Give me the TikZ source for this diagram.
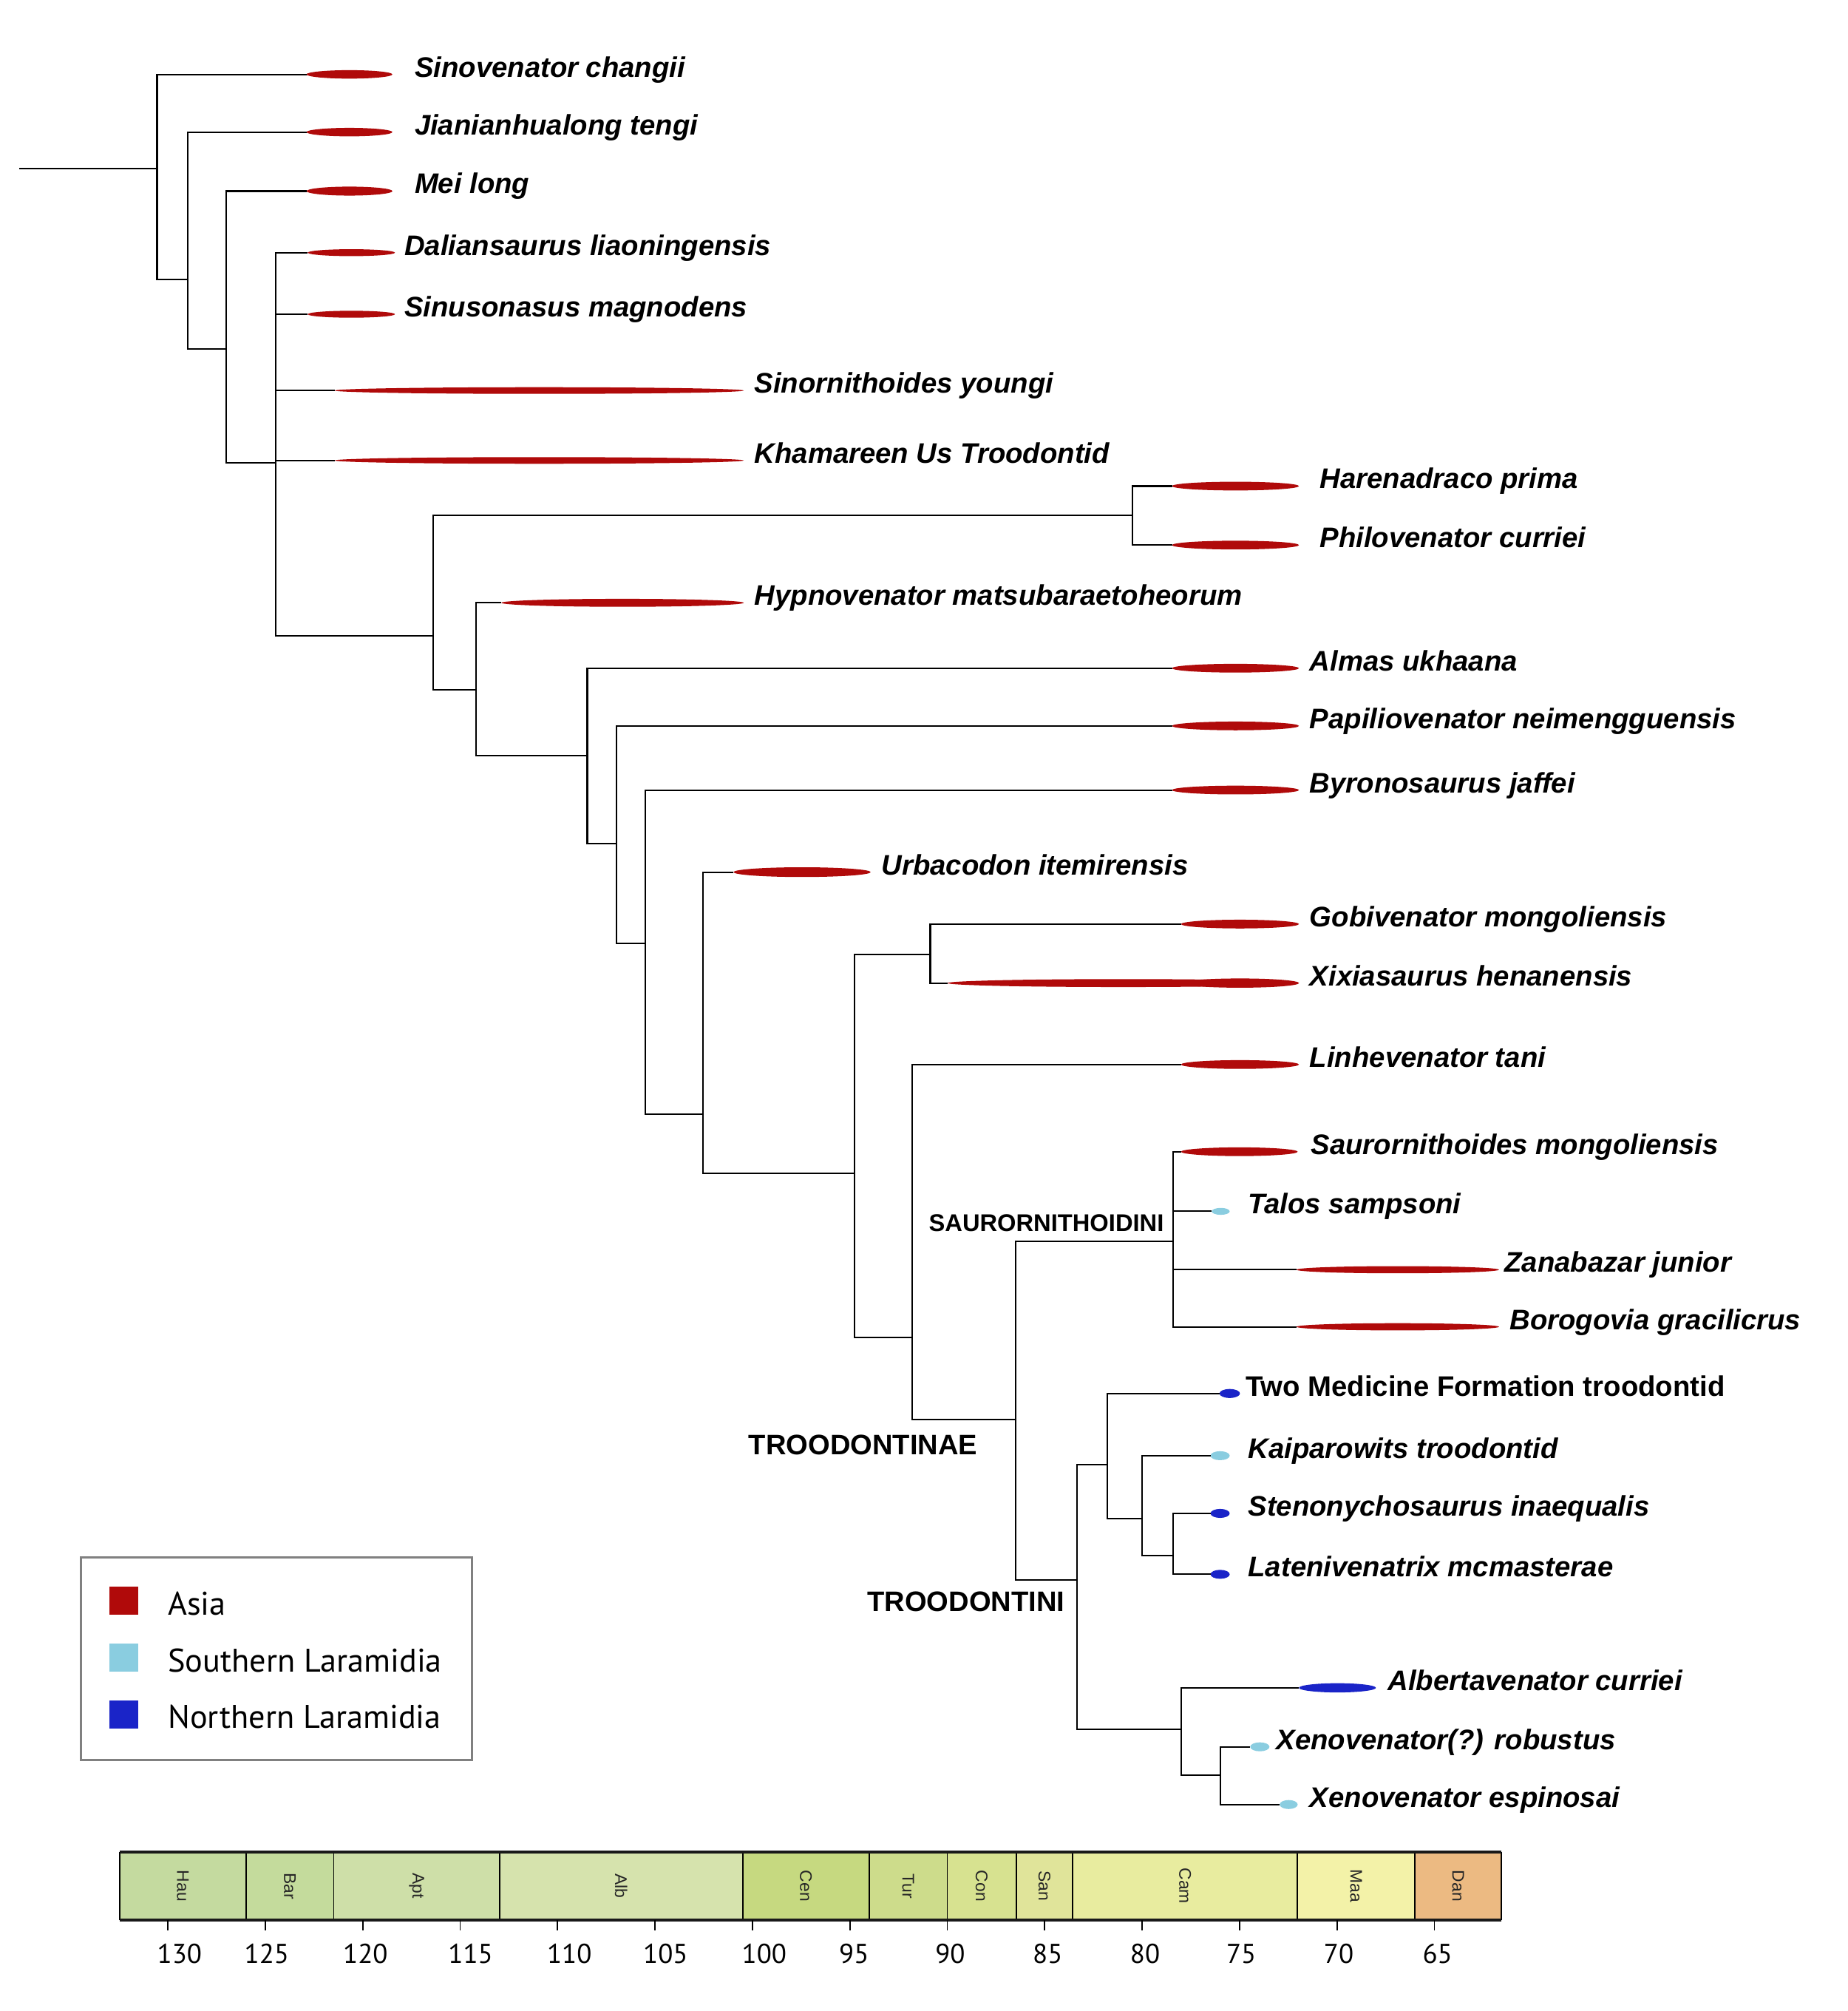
\documentclass[tikz,border=0pt]{standalone}
\usepackage{fontspec}
\setmainfont{Liberation Sans}
\newfontfamily\legfont{PT Sans}

\definecolor{asia}{RGB}{176,10,10}
\definecolor{slaram}{RGB}{138,205,224}
\definecolor{nlaram}{RGB}{26,36,200}
\definecolor{hau}{RGB}{196,218,159}
\definecolor{bar}{RGB}{196,219,156}
\definecolor{apt}{RGB}{206,223,168}
\definecolor{alb}{RGB}{214,227,173}
\definecolor{cen}{RGB}{198,217,128}
\definecolor{tur}{RGB}{205,220,139}
\definecolor{con}{RGB}{215,226,144}
\definecolor{san}{RGB}{224,228,154}
\definecolor{cam}{RGB}{232,236,159}
\definecolor{maa}{RGB}{243,242,168}
\definecolor{dan}{RGB}{236,186,130}

\tikzset{
	branch/.style={black, line width=0.6pt},
	taxon/.style={anchor=base west, inner sep=0pt, font=\fontsize{10.9}{13}\selectfont\bfseries\itshape},
	clade/.style={anchor=base west, inner sep=0pt, font=\fontsize{10.85}{13}\selectfont\bfseries},
	legtext/.style={anchor=base west, inner sep=0pt, font=\legfont\fontsize{12.6}{14}\selectfont},
	legsq/.style={minimum size=0.382cm, inner sep=0pt},
	agelab/.style={anchor=base, inner sep=0pt, font=\legfont\fontsize{10.5}{12}\selectfont},
	stagelab/.style={rotate=-90, inner sep=0pt, font=\fontsize{6.5}{7}\selectfont, black!85}
}

% name, y, start, end, half height, colour, label x, label
\newcommand{\taxon}[8]{%
	\coordinate (#1) at (#3,#2);
	\fill[#6] ({(#3+#4)/2},#2) ellipse [x radius={(#4-#3)/2}, y radius=#5];
	\node[taxon] (#1-name) at (#7,#2+2) {#8};}

\begin{document}
\begin{tikzpicture}[x=0.01735cm, y=-0.01735cm]
		\useasboundingbox (0,0) rectangle (1441,1568);

		% internal nodes
		\coordinate (root)	at (15, 131.4);
		\coordinate (nA)	at (122.5, 131.4);
		\coordinate (nB)	at (146.5, 218);
		\coordinate (nC)	at (176.5, 272);
		\coordinate (nD)	at (215, 361);
		\coordinate (nE)	at (338, 496);
		\coordinate (nF)	at (883, 402);
		\coordinate (nG)	at (371, 538);
		\coordinate (nH)	at (458, 589);
		\coordinate (nI)	at (481, 657.6);
		\coordinate (nJ)	at (503, 735.8);
		\coordinate (nK)	at (548, 868.6);
		\coordinate (nL)	at (666.5, 915);
		\coordinate (nM)	at (725.5, 744);
		\coordinate (nN)	at (711.5, 1043);
		\coordinate (nO)	at (792, 1107);
		\coordinate (nP)	at (915, 967.7);
		\coordinate (nQ)	at (840, 1232);
		\coordinate (nR)	at (863.5, 1142);
		\coordinate (nS)	at (890.5, 1184);
		\coordinate (nT)	at (915, 1213);
		\coordinate (nU)	at (921, 1348.5);
		\coordinate (nV)	at (951.5, 1384);

		% tips
		\taxon{sinov}{58}{239}{306}{3.3}{asia}{323}{Sinovenator changii}
		\taxon{jian}{103}{239}{306}{3.3}{asia}{323}{Jianianhualong tengi}
		\taxon{mei}{149}{239}{306}{3.5}{asia}{323}{Mei long}
		\taxon{dalian}{197}{240}{308}{2.7}{asia}{315}{Daliansaurus liaoningensis}
		\taxon{sinus}{245}{240}{308}{2.7}{asia}{315}{Sinusonasus magnodens}
		\taxon{sinorn}{304.5}{261}{580}{2.6}{asia}{588}{Sinornithoides youngi}
		\taxon{kham}{359}{261}{580}{2.6}{asia}{588}{Khamareen Us Troodontid}
		\taxon{haren}{379}{914}{1013}{3.4}{asia}{1029}{Harenadraco prima}
		\taxon{philo}{425}{914}{1013}{3.4}{asia}{1029}{Philovenator curriei}
		\taxon{hypno}{470}{391}{580}{3.1}{asia}{588}{Hypnovenator matsubaraetoheorum}
		\taxon{almas}{521}{914}{1013}{3.4}{asia}{1021}{Almas ukhaana}
		\taxon{papil}{566}{914}{1013}{3.4}{asia}{1021}{Papiliovenator neimengguensis}
		\taxon{byron}{616}{914}{1013}{3.4}{asia}{1021}{Byronosaurus jaffei}
		\taxon{urba}{680}{572}{679}{3.8}{asia}{687}{Urbacodon itemirensis}
		\taxon{gobi}{720.5}{921}{1013}{3.4}{asia}{1021}{Gobivenator mongoliensis}
		\taxon{xixia}{766.5}{739}{1013}{3.1}{asia}{1021}{Xixiasaurus henanensis}
		\fill[asia] (967, 766.5) ellipse [x radius=46, y radius=3.6];
		\taxon{linhe}{830}{921}{1013}{3.4}{asia}{1021}{Linhevenator tani}
		\taxon{saurm}{898}{921}{1012}{3.4}{asia}{1022}{Saurornithoides mongoliensis}
		\taxon{talos}{944.5}{945}{959}{2.7}{slaram}{973}{Talos sampsoni}
		\taxon{zanab}{990}{1011}{1169}{2.8}{asia}{1173}{Zanabazar junior}
		\taxon{borog}{1034.5}{1011}{1169}{2.8}{asia}{1177}{Borogovia gracilicrus}
		\taxon{twomed}{1086.5}{951}{967}{3.5}{nlaram}{971}{\upshape Two Medicine Formation troodontid}
		\taxon{kaipa}{1135}{944}{959}{3.5}{slaram}{973}{Kaiparowits troodontid}
		\taxon{steno}{1180}{944}{959}{3.5}{nlaram}{973}{Stenonychosaurus inaequalis}
		\taxon{laten}{1227.5}{944}{959}{3.5}{nlaram}{973}{Latenivenatrix mcmasterae}
		\taxon{alber}{1316}{1013}{1073}{3.6}{nlaram}{1082}{Albertavenator curriei}
		\taxon{xenor}{1362}{975}{990}{3.5}{slaram}{995}{Xenovenator(?) robustus}
		\taxon{xenoe}{1407}{998}{1012}{3.5}{slaram}{1021}{Xenovenator espinosai}

		% branches
		\draw[branch]	(root) -- (nA);
		\draw[branch]	(nA) |- (sinov)		(nA) |- (nB);
		\draw[branch]	(nB) |- (jian)		(nB) |- (nC);
		\draw[branch]	(nC) |- (mei)		(nC) |- (nD);
		\draw[branch]	(nD) |- (dalian)	(nD) |- (sinus)
						(nD) |- (sinorn)	(nD) |- (kham)
						(nD) |- (nE);
		\draw[branch]	(nE) |- (nF)		(nE) |- (nG);
		\draw[branch]	(nF) |- (haren)		(nF) |- (philo);
		\draw[branch]	(nG) |- (hypno)		(nG) |- (nH);
		\draw[branch]	(nH) |- (almas)		(nH) |- (nI);
		\draw[branch]	(nI) |- (papil)		(nI) |- (nJ);
		\draw[branch]	(nJ) |- (byron)		(nJ) |- (nK);
		\draw[branch]	(nK) |- (urba)		(nK) |- (nL);
		\draw[branch]	(nL) |- (nM)		(nL) |- (nN);
		\draw[branch]	(nM) |- (gobi)		(nM) |- (xixia);
		\draw[branch]	(nN) |- (linhe)		(nN) |- (nO);
		\draw[branch]	(nO) |- (nP)		(nO) |- (nQ);
		\draw[branch]	(nP) |- (saurm)		(nP) |- (talos)
						(nP) |- (zanab)		(nP) |- (borog);
		\draw[branch]	(nQ) |- (nR)		(nQ) |- (nU);
		\draw[branch]	(nR) |- (twomed)	(nR) |- (nS);
		\draw[branch]	(nS) |- (kaipa)		(nS) |- (nT);
		\draw[branch]	(nT) |- (steno)		(nT) |- (laten);
		\draw[branch]	(nU) |- (alber)		(nU) |- (nV);
		\draw[branch]	(nV) |- (xenor)		(nV) |- (xenoe);

		% clades
		\node[clade, font=\fontsize{9.3}{11}\selectfont\bfseries] (saurini) at (724, 960) {SAURORNITHOIDINI};
		\node[clade] (troinae) at (583.5, 1134) {TROODONTINAE};
		\node[clade] (troini) at (676, 1256.5) {TROODONTINI};

		% legend
		\draw[black!50, line width=0.8pt] (63, 1214.5) rectangle (368, 1372.5);
		\node[legsq, fill=asia] (sqasia) at (96.6, 1248.2) {};
		\node[legsq, fill=slaram] (sqsouth) at (96.6, 1292.5) {};
		\node[legsq, fill=nlaram] (sqnorth) at (96.6, 1336.9) {};
		\node[legtext] (legasia) at (130.7, 1259) {Asia};
		\node[legtext] (legsouth) at (130.7, 1303.5) {Southern Laramidia};
		\node[legtext] (legnorth) at (130.7, 1347.7) {Northern Laramidia};

		% time scale
		\foreach \xa/\xb/\st/\col in {93.4/191.9/Hau/hau, 191.9/260.3/Bar/bar, 260.3/389.6/Apt/apt,
				389.6/579.3/Alb/alb, 579.3/677.8/Cen/cen, 677.8/738.7/Tur/tur, 738.7/792.5/Con/con,
				792.5/836.5/San/san, 836.5/1011.8/Cam/cam, 1011.8/1103.3/Maa/maa, 1103.3/1171/Dan/dan}{
			\fill[\col] (\xa, 1444) rectangle (\xb, 1497);
			\draw[black, line width=0.5pt] (\xa, 1444) -- (\xa, 1497) (\xb, 1444) -- (\xb, 1497);
			\node[stagelab] (st\st) at ({(\xa+\xb)/2}, 1470.5) {\st};
		}
		\draw[black!90, line width=1pt] (93.4, 1444) -- (1171, 1444)
									(93.4, 1497) -- (1171, 1497);
		\foreach \i/\xl in {0/140, 1/208, 2/285, 3/367, 4/444, 5/519, 6/596,
				7/666, 8/741, 9/817, 10/893, 11/968, 12/1044, 13/1121}{
			\pgfmathsetmacro\xt{130.9+75.98*\i}
			\pgfmathtruncatemacro\age{130-5*\i}
			\draw[black, line width=0.5pt] (\xt, 1497) -- (\xt, 1505);
			\node[agelab] (age\age) at (\xl, 1531) {\age};
		}
	\end{tikzpicture}
\end{document}
